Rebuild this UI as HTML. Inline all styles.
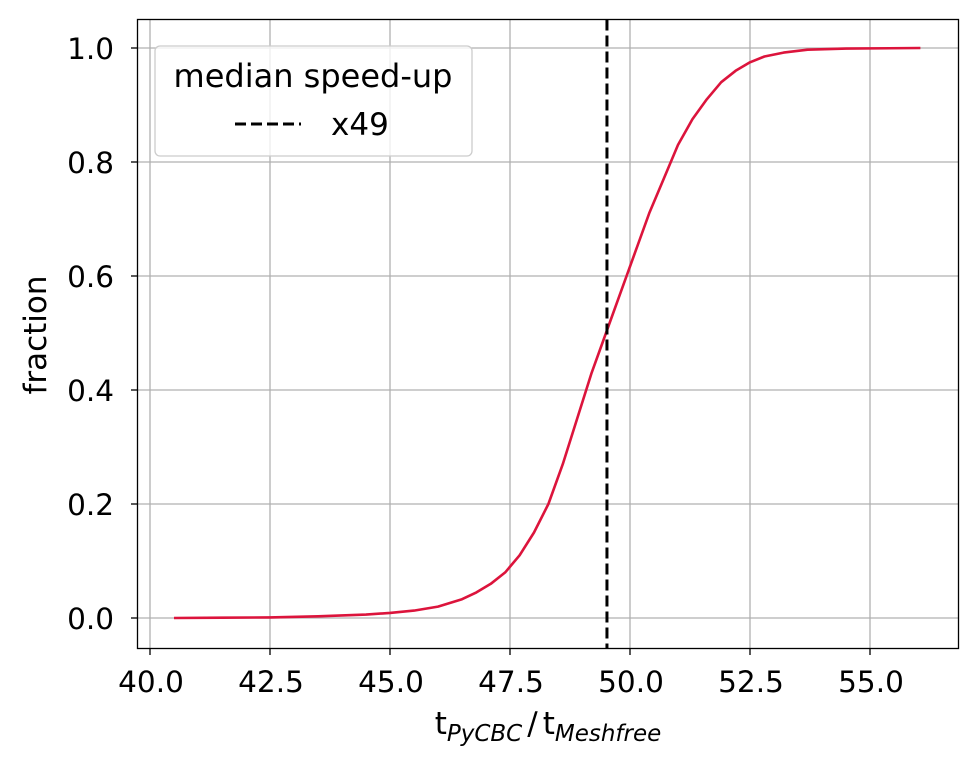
<!DOCTYPE html>
<html><head><meta charset="utf-8"><style>
html,body{margin:0;padding:0;background:#fff;}
svg{display:block;font-family:"DejaVu Sans","Liberation Sans",sans-serif;}
</style></head><body>
<svg id="chart" width="977" height="770" viewBox="0 0 977 770">
<g id="grid"></g>
<g id="marks"></g>
<rect x="137.5" y="19.5" width="821" height="629" fill="none" stroke="#000" stroke-width="1.3"/>
<g id="ticks"></g>
<text x="46" y="335" font-size="31" text-anchor="middle" transform="rotate(-90 46 335)">fraction</text>
<text x="548" y="734" font-size="31" text-anchor="middle">t<tspan font-size="23" font-style="italic" dy="7">PyCBC</tspan><tspan dy="-7" dx="5">/</tspan><tspan dx="5">t</tspan><tspan font-size="23" font-style="italic" dy="7">Meshfree</tspan></text>
<g>
<rect x="155" y="46" width="317" height="110" rx="5" fill="#fff" fill-opacity="0.8" stroke="#ccc" stroke-width="1.3"/>
<text x="313" y="87" font-size="32" text-anchor="middle">median speed-up</text>
<line x1="235" y1="124" x2="301" y2="124" stroke="#000" stroke-width="3" stroke-dasharray="11,5"/>
<text x="331" y="135" font-size="31">x49</text>
</g>
</svg>
<script>
const xVals=[40.5,41.5,42.5,43.5,44.5,45,45.5,46,46.5,46.8,47.1,47.4,47.7,48,48.3,48.6,48.9,49.2,49.5,49.8,50.1,50.4,50.7,51,51.3,51.6,51.9,52.2,52.5,52.8,53.2,53.7,54.5,56.05];
const yVals=[0,0.0005,0.001,0.003,0.006,0.009,0.013,0.02,0.033,0.045,0.06,0.08,0.11,0.15,0.2,0.27,0.35,0.43,0.5,0.57,0.64,0.71,0.77,0.83,0.875,0.91,0.94,0.96,0.975,0.985,0.992,0.997,0.999,1.0];
const medianValue=49.52;
const xTicks=[40,42.5,45,47.5,50,52.5,55];
const yTicks=[0,0.2,0.4,0.6,0.8,1.0];
const NS="http://www.w3.org/2000/svg";
const sx=v=>150+(v-40)*48;
const sy=v=>618-v*570;
function mk(tag,attrs,parent){const e=document.createElementNS(NS,tag);for(const k in attrs)e.setAttribute(k,attrs[k]);document.getElementById(parent).appendChild(e);return e;}
xTicks.forEach(t=>{
 const g=mk('line',{x1:sx(t),x2:sx(t),y1:19.5,y2:648.5,stroke:'#b0b0b0','stroke-width':1.3},'grid');
 
 
 const tk=mk('line',{x1:sx(t),x2:sx(t),y1:648.5,y2:655,stroke:'#000','stroke-width':1.3},'ticks');
 
 
 const lb=mk('text',{x:sx(t)+1,y:692,'font-size':29.5,'text-anchor':'middle'},'ticks');
 lb.textContent=t.toFixed(1);
 
 
});
yTicks.forEach(t=>{
 const g=mk('line',{x1:137.5,x2:958.5,y1:sy(t),y2:sy(t),stroke:'#b0b0b0','stroke-width':1.3},'grid');
 
 
 const tk=mk('line',{x1:131,x2:137.5,y1:sy(t),y2:sy(t),stroke:'#000','stroke-width':1.3},'ticks');
 
 
 const lb=mk('text',{x:114,y:sy(t)+11,'font-size':29.5,'text-anchor':'end'},'ticks');
 lb.textContent=t.toFixed(1);
 
 
});
const d=xVals.map((x,i)=>(i?'L':'M')+sx(x).toFixed(1)+','+sy(yVals[i]).toFixed(1)).join(' ');
const p=mk('path',{d:d,fill:'none',stroke:'#dc143c','stroke-width':2.6,'stroke-linejoin':'round'},'marks');


const m=mk('line',{x1:sx(medianValue),x2:sx(medianValue),y1:19.5,y2:648.5,stroke:'#000','stroke-width':3,'stroke-dasharray':'11,5'},'marks');


</script>
</body></html>
